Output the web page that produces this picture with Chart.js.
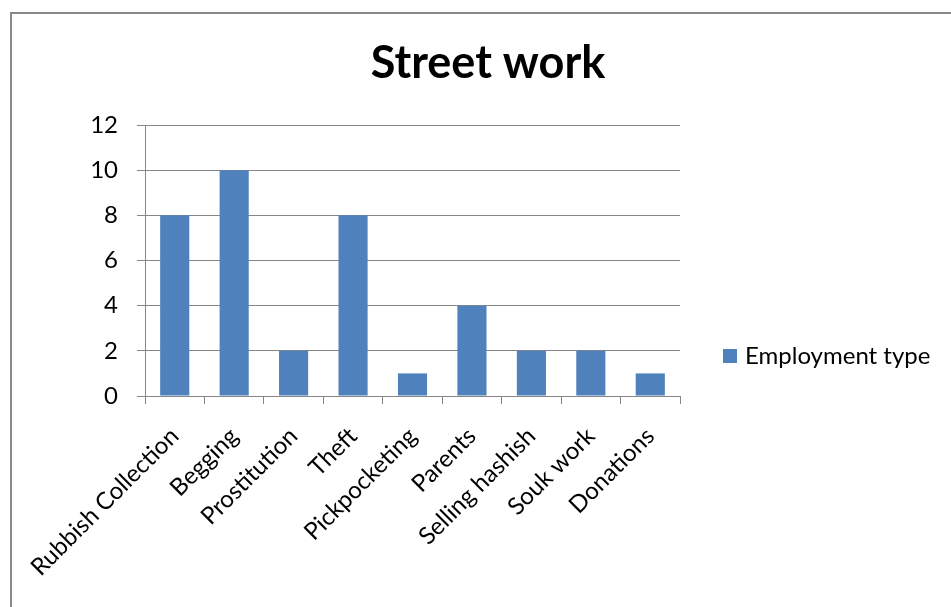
<!DOCTYPE html>
<html>
<head>
<meta charset="utf-8">
<script src="https://cdn.jsdelivr.net/npm/chart.js@4/dist/chart.umd.min.js"></script>
<style>
    body { margin: 0; background: #fff; overflow: hidden; }
    #frame {
        position: absolute; left: 10px; top: 12px;
        width: 960px; height: 620px;
        border: 2px solid #888;
    }
    #chart { position: absolute; left: 0; top: 0; }
</style>
</head>
<body>
<div id="frame"></div>
<canvas id="chart" width="951" height="607"></canvas>
<script>
// data
const categories = ['Rubbish Collection', 'Begging', 'Prostitution', 'Theft', 'Pickpocketing',
    'Parents', 'Selling hashish', 'Souk work', 'Donations'];
const employment = [8, 10, 2, 8, 1, 4, 2, 2, 1];
const seriesName = 'Employment type';
const yTicks = [0, 2, 4, 6, 8, 10, 12];

const barColor = '#4F81BD';
const lineColor = '#868686';
const fontName = 'Lato, "Open Sans", sans-serif';

// legend drawn by hand on the right, like the Excel one
const sideLegend = {
    id: 'sideLegend',
    afterDraw(chart) {
        const ctx = chart.ctx;
        const area = chart.chartArea;
        const ds = chart.data.datasets[0];
        const x = area.right + 43;
        const y = area.top + 231;
        ctx.save();
        ctx.fillStyle = ds.backgroundColor;
        ctx.fillRect(x, y - 7, 14, 14);
        ctx.fillStyle = '#000';
        ctx.font = '24px ' + fontName;
        ctx.textBaseline = 'middle';
        ctx.fillText(ds.label, x + 22, y);
        ctx.restore();
    }
};

new Chart(document.getElementById('chart').getContext('2d'), {
    type: 'bar',
    data: {
        labels: categories,
        datasets: [{
            label: seriesName,
            data: employment,
            backgroundColor: barColor,
            borderWidth: 0,
            barPercentage: 0.98,
            categoryPercentage: 0.5
        }]
    },
    options: {
        responsive: false,
        animation: false,
        layout: { padding: { left: 25, top: 12, right: 0, bottom: 0 } },
        plugins: {
            legend: { display: false },
            tooltip: { enabled: false },
            title: {
                display: true,
                text: 'Street work',
                color: '#000',
                font: { family: fontName, size: 45, weight: 'bold', lineHeight: 1.2 },
                padding: { top: 24, bottom: 35 }
            }
        },
        scales: {
            x: {
                grid: { drawOnChartArea: false, drawTicks: true, tickLength: 8, color: lineColor, offset: true },
                border: { color: lineColor, width: 1 },
                ticks: {
                    color: '#000',
                    font: { family: fontName, size: 24 },
                    minRotation: 45,
                    maxRotation: 45,
                    padding: 18
                },
                afterFit: s => { s.height = 211; }
            },
            y: {
                min: 0,
                max: 12,
                afterBuildTicks: s => { s.ticks = yTicks.map(v => ({ value: v })); },
                grid: { color: lineColor, tickLength: 8 },
                border: { color: lineColor, width: 1 },
                ticks: {
                    color: '#000',
                    font: { family: fontName, size: 24 },
                    padding: 19
                },
                afterFit: s => { s.width = 120; }
            },
            spacer: {
                type: 'linear',
                position: 'right',
                grid: { display: false },
                border: { display: false },
                ticks: { display: false },
                afterFit: s => { s.width = 271; }
            }
        }
    },
    plugins: [sideLegend]
});
</script>
</body>
</html>
